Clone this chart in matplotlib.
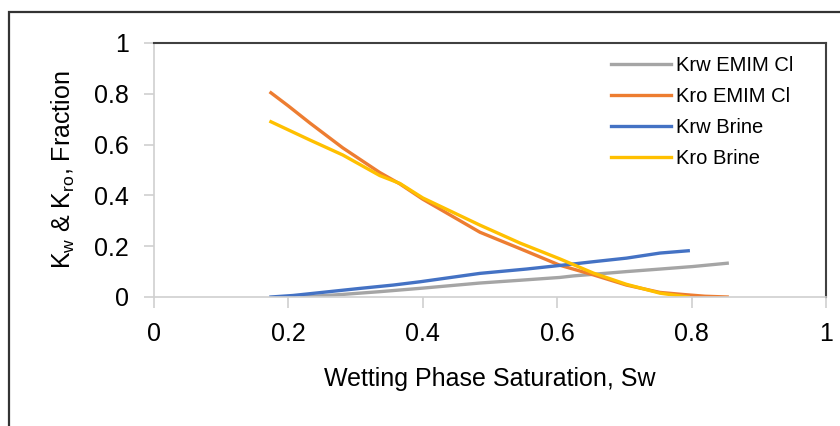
import matplotlib.pyplot as plt
from matplotlib.patches import Rectangle

plt.rcParams['font.family'] = ['Liberation Sans', 'DejaVu Sans']
plt.rcParams['mathtext.default'] = 'regular'

# values
sw_krw_emim = [0.22, 0.28, 0.336, 0.40, 0.485, 0.545, 0.604, 0.624, 0.703, 0.753, 0.802, 0.853]
krw_emim = [0.0, 0.01, 0.021, 0.035, 0.055, 0.066, 0.077, 0.083, 0.10, 0.11, 0.12, 0.133]

sw_kro_emim = [0.174, 0.20, 0.232, 0.281, 0.336, 0.366, 0.40, 0.485, 0.545, 0.604, 0.654, 0.703, 0.753, 0.787, 0.82, 0.853]
kro_emim = [0.804, 0.752, 0.685, 0.587, 0.49, 0.445, 0.385, 0.255, 0.19, 0.125, 0.087, 0.047, 0.018, 0.01, 0.003, 0.0]

sw_krw_brine = [0.174, 0.207, 0.257, 0.307, 0.356, 0.396, 0.485, 0.554, 0.624, 0.654, 0.703, 0.753, 0.795]
krw_brine = [0.0, 0.006, 0.02, 0.034, 0.047, 0.06, 0.093, 0.11, 0.13, 0.139, 0.153, 0.173, 0.182]

sw_kro_brine = [0.174, 0.232, 0.281, 0.336, 0.366, 0.40, 0.485, 0.545, 0.604, 0.654, 0.703, 0.753, 0.795]
kro_brine = [0.69, 0.618, 0.559, 0.478, 0.447, 0.39, 0.283, 0.212, 0.15, 0.094, 0.05, 0.015, 0.0]

xticks = [0, 0.2, 0.4, 0.6, 0.8, 1]
yticks = [0, 0.2, 0.4, 0.6, 0.8, 1]
tick_labels = ["0", "0.2", "0.4", "0.6", "0.8", "1"]

fig = plt.figure(figsize=(8.4, 4.26), dpi=100)
ax = fig.add_axes([154 / 840, 1 - 297 / 426, 672 / 840, 254 / 426])

# outer chart frame (only top and left edges visible in the crop)
fig.add_artist(Rectangle((9 / 840, -0.2), 1.2, 1.2 - 12 / 426, transform=fig.transFigure,
                         fill=False, edgecolor='#333333', linewidth=1.6, clip_on=False))

lw = 2.4
ax.plot(sw_krw_emim, krw_emim, color='#A5A5A5', lw=lw, label='Krw EMIM Cl')
ax.plot(sw_kro_emim, kro_emim, color='#ED7D31', lw=lw, label='Kro EMIM Cl')
ax.plot(sw_krw_brine, krw_brine, color='#4472C4', lw=lw, label='Krw Brine')
ax.plot(sw_kro_brine, kro_brine, color='#FFC000', lw=lw, label='Kro Brine')

ax.set_xlim(0, 1)
ax.set_ylim(0, 1)
ax.set_xticks(xticks, tick_labels)
ax.set_yticks(yticks, tick_labels)

for s in ['top', 'right']:
    ax.spines[s].set_color('#404040')
    ax.spines[s].set_linewidth(1.5)
for s in ['left', 'bottom']:
    ax.spines[s].set_color('#D0D0D0')
    ax.spines[s].set_linewidth(1.2)

ax.tick_params(axis='x', direction='out', length=8, width=1.2, color='#D0D0D0', pad=10, labelsize=18)
ax.tick_params(axis='y', direction='out', length=7, width=1.2, color='#D0D0D0', pad=11, labelsize=18)

ax.set_xlabel('Wetting Phase Saturation, Sw', fontsize=18, labelpad=15)
ax.set_ylabel('K$_{w}$ & K$_{ro}$, Fraction', fontsize=18, labelpad=12)

ax.legend(loc='upper left', bbox_to_anchor=(0.68, 0.95), frameon=False, fontsize=14.5,
          handlelength=3.0, handletextpad=0.25, labelspacing=0.6, borderpad=0, borderaxespad=0)

fig.savefig('out.png', dpi=100)
